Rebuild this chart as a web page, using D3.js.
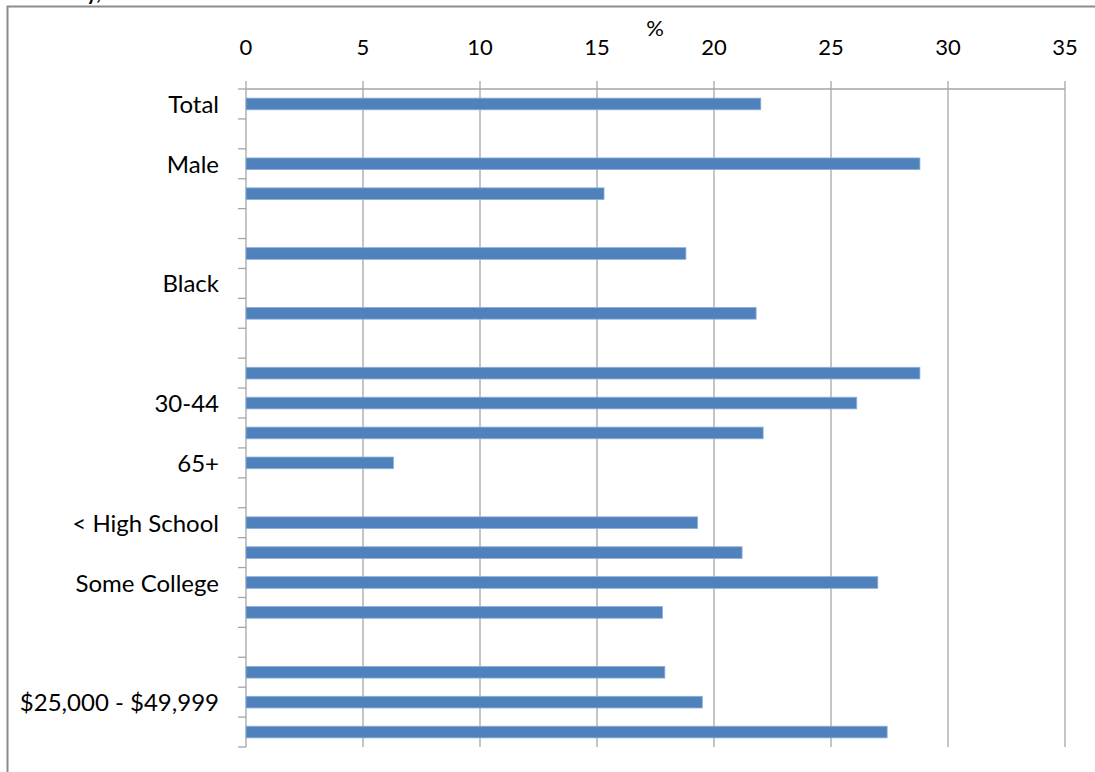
<!DOCTYPE html>
<html>
<head>
<meta charset="utf-8">
<script src="https://cdn.jsdelivr.net/npm/d3@7"></script>
<style>
  html, body { margin: 0; padding: 0; background: #fff; }
  svg { display: block; }
</style>
</head>
<body>
<svg id="chart" width="1095" height="772"></svg>
<script>
// ---- data ----
const categories = ["Total", "", "Male", "Female", "", "White", "Black", "Hispanic", "",
  "18-29", "30-44", "45-64", "65+", "", "< High School", "High School", "Some College",
  "College Graduate", "", "< $25,000", "$25,000 - $49,999", "$50,000+"];
const values = [22.0, null, 28.8, 15.3, null, 18.8, null, 21.8, null,
  28.8, 26.1, 22.1, 6.3, null, 19.3, 21.2, 27.0, 17.8, null, 17.9, 19.5, 27.4];
const xTicks = [0, 5, 10, 15, 20, 25, 30, 35];
const axisTitle = "%";
const labelEvery = 2;

// ---- layout ----
const svg = d3.select("#chart");
const pLeft = 246, pRight = 1065, pTop = 89, pBottom = 747;
const font = "Lato, 'Open Sans', sans-serif";

const x = d3.scaleLinear().domain([0, 35]).range([pLeft, pRight]);
const y = d3.scaleBand().domain(d3.range(categories.length)).range([pTop, pBottom]).paddingInner(0).paddingOuter(0);
const barH = y.bandwidth() * 0.39;

// frame
svg.append("path").attr("d", `M7.5,772 L7.5,6.5 L1095,6.5`).attr("fill", "none")
  .attr("stroke", "#8c8c8c").attr("stroke-width", 2);

// cut-off title fragment
svg.append("text").attr("x", 101).attr("y", 0).attr("text-anchor", "end")
  .attr("font-family", font).attr("font-weight", "bold").attr("font-size", 20)
  .attr("fill", "#000").text("ly,");

const grid = "#a6a6a6";
// vertical gridlines + top ticks
svg.append("g").selectAll("line").data(xTicks).join("line")
  .attr("x1", d => x(d)).attr("x2", d => x(d))
  .attr("y1", pTop - 8).attr("y2", pBottom)
  .attr("stroke", grid).attr("stroke-width", 1.3);

// top axis line
svg.append("line").attr("x1", pLeft).attr("x2", pRight).attr("y1", pTop).attr("y2", pTop)
  .attr("stroke", grid).attr("stroke-width", 1.3);

// category axis ticks at band boundaries
const bounds = d3.range(categories.length + 1).map(i => pTop + i * y.step());
svg.append("g").selectAll("line").data(bounds).join("line")
  .attr("x1", pLeft - 8).attr("x2", pLeft).attr("y1", d => d).attr("y2", d => d)
  .attr("stroke", grid).attr("stroke-width", 1.3);

// x tick labels
svg.append("g").selectAll("text").data(xTicks).join("text")
  .attr("x", d => x(d)).attr("y", 55).attr("text-anchor", "middle")
  .attr("font-family", font).attr("font-size", 22).attr("fill", "#000")
  .text(d => d);

svg.append("text").attr("x", 655).attr("y", 36).attr("text-anchor", "middle")
  .attr("font-family", font).attr("font-size", 22).attr("fill", "#000").text(axisTitle);

// bars
svg.append("g").selectAll("rect").data(values.map((v, i) => ({v, i})).filter(d => d.v != null))
  .join("rect")
  .attr("x", x(0)).attr("y", d => y(d.i) + y.bandwidth() / 2 - barH / 2)
  .attr("width", d => x(d.v) - x(0)).attr("height", barH)
  .attr("fill", "#4f81bd").attr("stroke", "#8eafd6").attr("stroke-width", 0.8);

// category labels (every other, as in the original)
svg.append("g").selectAll("text").data(categories.map((c, i) => ({c, i})).filter(d => d.i % labelEvery === 0 && d.c))
  .join("text")
  .attr("x", 219).attr("y", d => y(d.i) + y.bandwidth() / 2 + 9).attr("text-anchor", "end")
  .attr("font-family", font).attr("font-size", 24).attr("fill", "#000")
  .text(d => d.c);
</script>
</body>
</html>
